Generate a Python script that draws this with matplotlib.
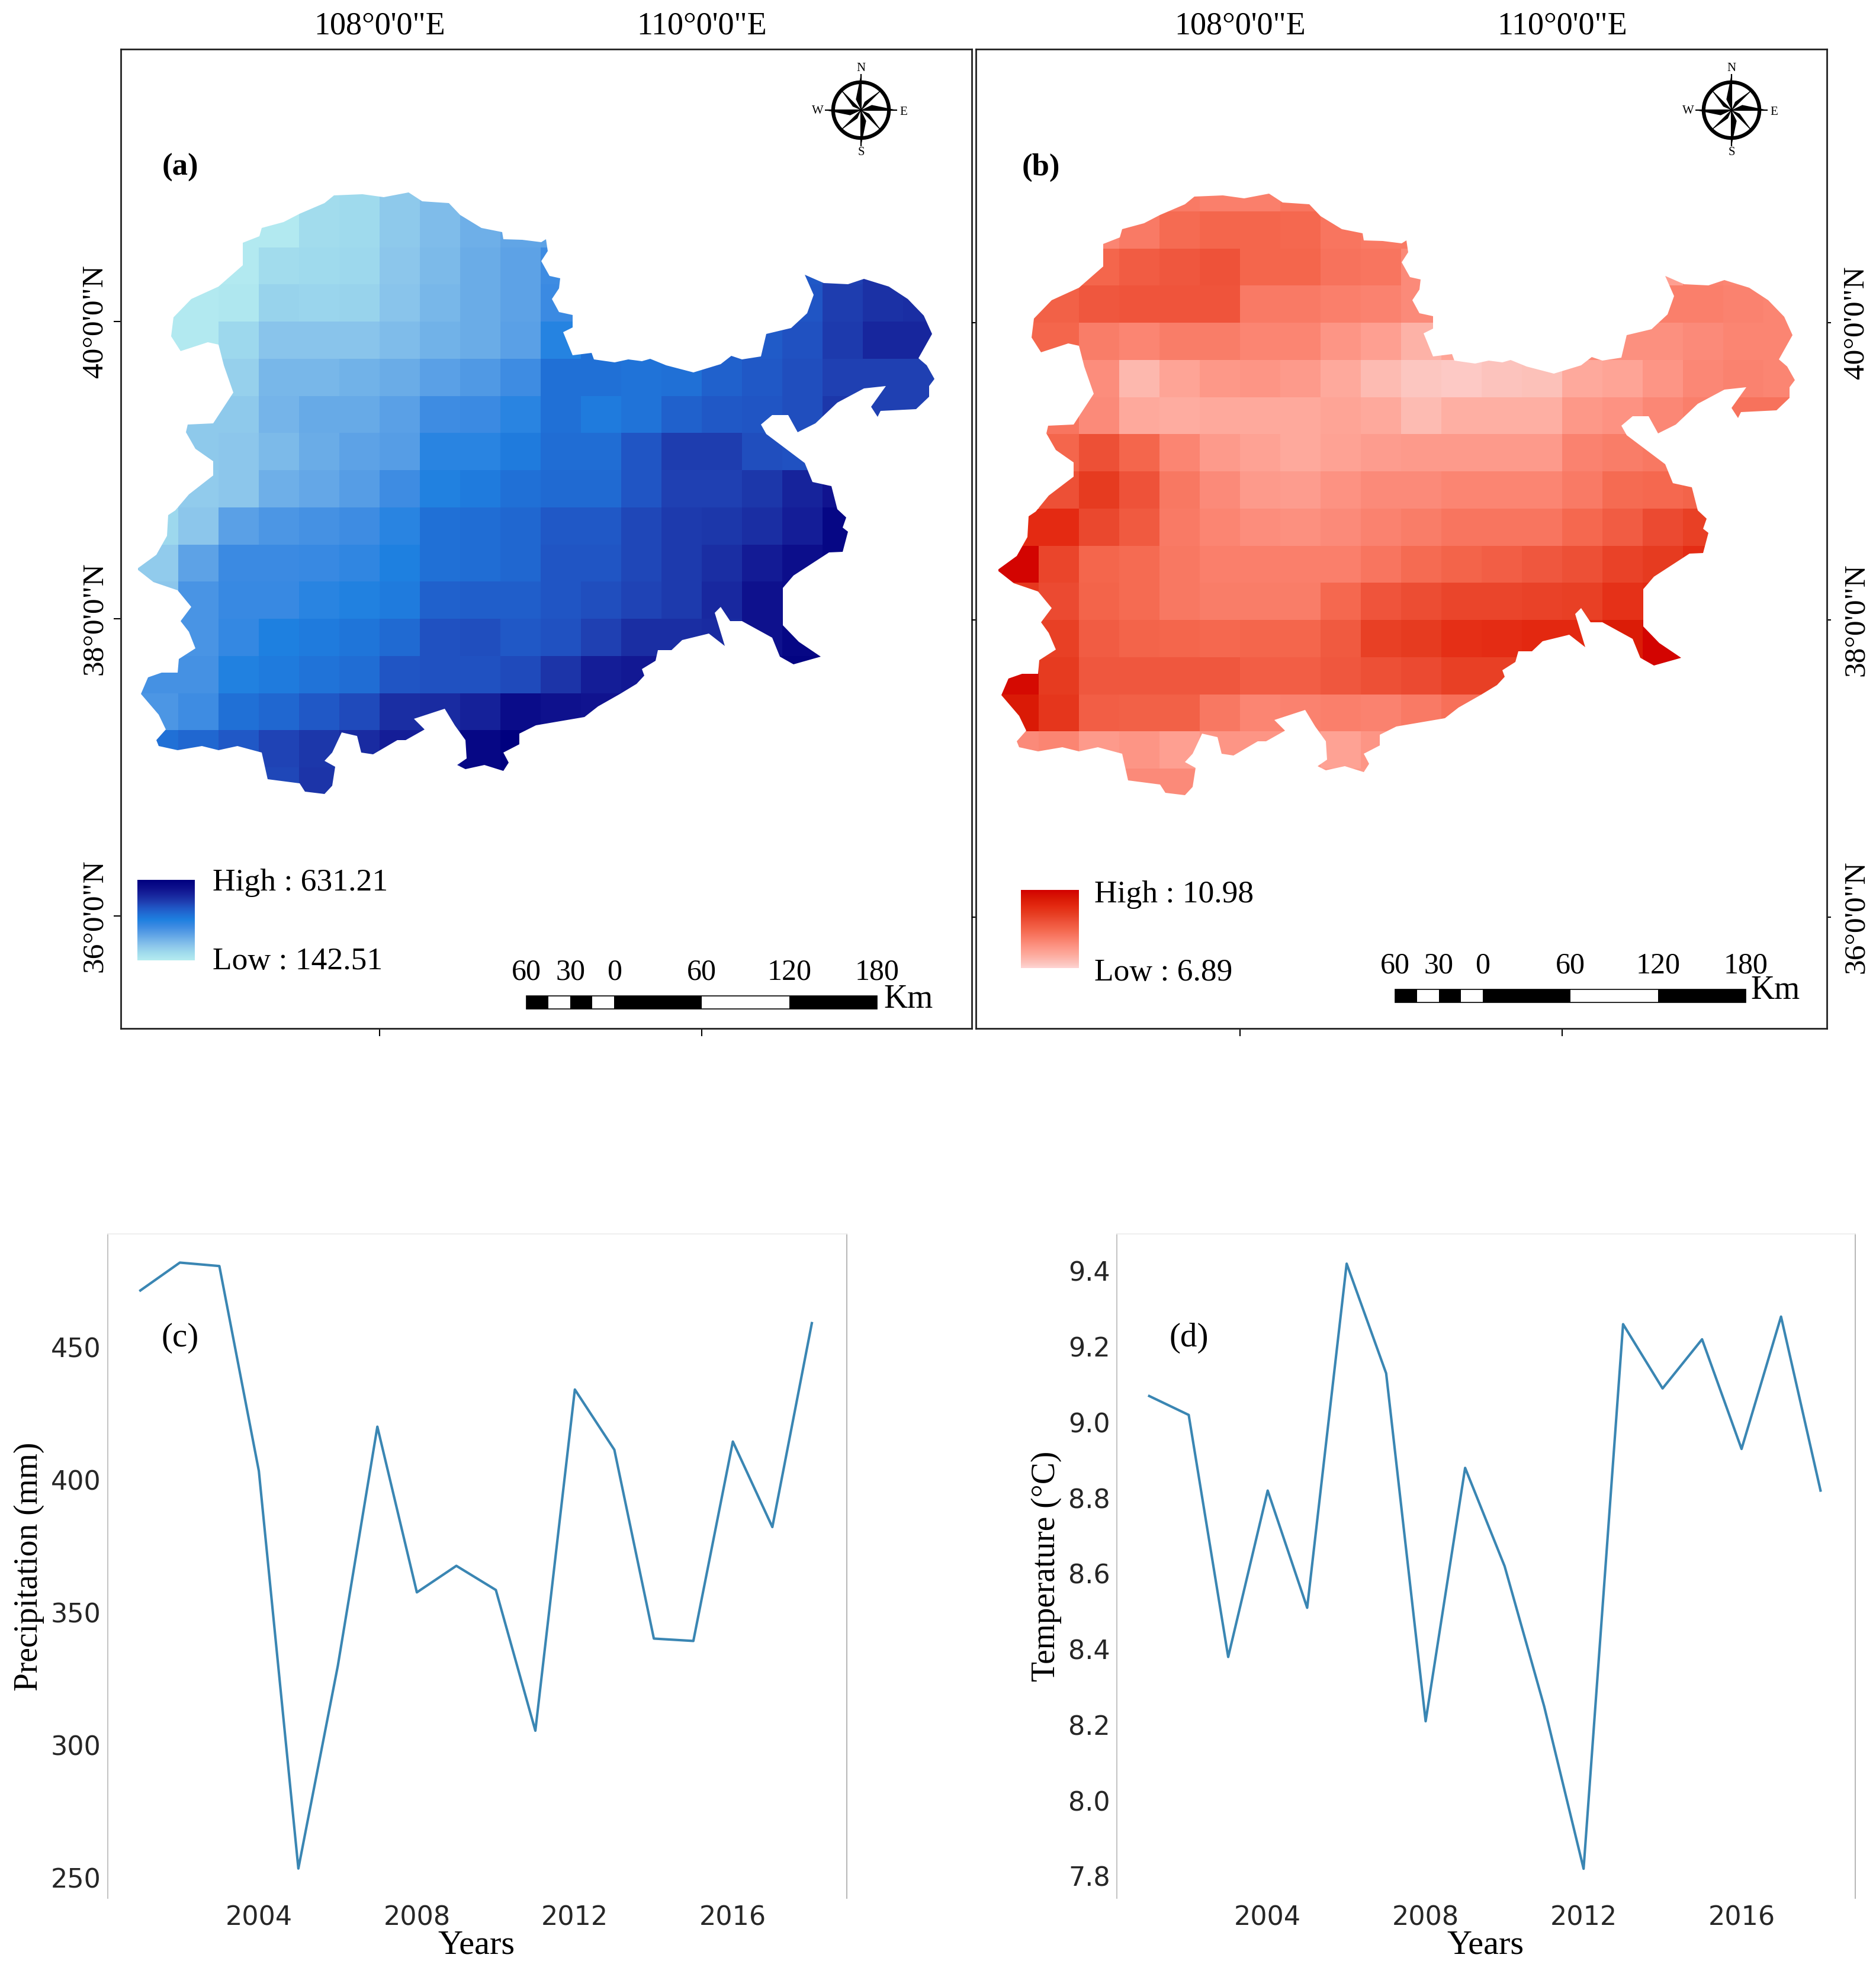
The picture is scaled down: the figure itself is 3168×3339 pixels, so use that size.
import numpy as np
import matplotlib
matplotlib.use("Agg")
import matplotlib.pyplot as plt
from matplotlib.colors import LinearSegmentedColormap, Normalize
from matplotlib.patches import Polygon, Rectangle, Circle

W, H = 3168, 3339
SERIF = "Liberation Serif"
n = np.nan

# 0.25 degree grid of the maps
lon_edges = np.arange(106.5, 111.51, 0.25)
lat_edges = np.arange(41.0, 36.74, -0.25)

# mean annual precipitation (mm), north to south, west to east
precip_grid = [
    [n, n, n, n, 185, 190, 225, 250, 275, n, n, n, n, n, n, n, n, n, n, n],
    [n, n, 150, 150, 185, 190, 225, 250, 275, 295, 300, n, n, n, n, n, n, n, n, n],
    [n, n, 150, 185, 190, 195, 230, 255, 280, 300, 345, n, n, n, n, n, 460, 495, 520, n],
    [150, 150, 155, 205, 200, 205, 235, 260, 280, 300, 350, n, n, n, n, n, 465, 500, 520, 525],
    [150, 150, 195, 235, 235, 235, 250, 270, 280, 305, 380, 420, n, n, 450, 455, 470, 505, 540, 540],
    [n, n, 210, 260, 260, 270, 280, 305, 320, 345, 420, 420, 415, 420, 445, 460, 475, 495, 495, 495],
    [n, 225, 225, 265, 285, 285, 305, 345, 350, 375, 420, 400, 415, 445, 460, 465, 475, 510, 495, 495],
    [n, 225, 230, 255, 280, 300, 310, 375, 375, 400, 425, 425, 465, 500, 500, 475, 470, n, n, n],
    [n, 220, 230, 275, 290, 310, 345, 385, 400, 420, 430, 430, 465, 495, 495, 510, 545, 575, n, n],
    [195, 230, 305, 325, 335, 345, 375, 420, 425, 435, 460, 460, 485, 505, 510, 525, 555, 610, n, n],
    [220, 300, 350, 350, 355, 365, 390, 420, 425, 435, 465, 465, 485, 505, 525, 560, 590, 610, n, n],
    [230, 330, 355, 355, 375, 385, 400, 445, 450, 450, 465, 475, 490, 505, 535, 580, 595, n, n, n],
    [n, 330, 360, 390, 400, 410, 430, 470, 475, 460, 470, 495, 525, 525, 530, 580, 610, n, n, n],
    [335, 335, 385, 400, 415, 425, 465, 470, 470, 480, 515, 555, 565, n, n, 610, 620, n, n, n],
    [325, 345, 420, 435, 460, 480, 525, 530, 550, 595, 580, 575, n, n, n, n, n, n, n, n],
    [420, 435, 460, 490, 510, 530, 555, 555, 610, 630, n, n, n, n, n, n, n, n, n, n],
    [n, n, n, 485, 515, n, n, n, 620, 625, n, n, n, n, n, n, n, n, n, n],
]

# mean annual temperature (deg C), same grid
temp_grid = [
    [n, n, n, n, 8.5, 8.4, 8.4, 8.6, 8.6, n, n, n, n, n, n, n, n, n, n, n],
    [n, n, 8.3, 8.5, 8.8, 8.9, 8.9, 8.85, 8.6, 8.5, 8.5, n, n, n, n, n, n, n, n, n],
    [n, n, 8.9, 9.1, 9.2, 9.3, 8.9, 8.9, 8.65, 8.6, 8.2, n, n, n, n, n, 7.8, 8.35, 8.3, n],
    [9.0, 9.0, 9.2, 9.25, 9.25, 9.25, 8.5, 8.5, 8.4, 8.35, 8.2, n, n, n, n, n, 8.4, 8.4, 8.35, 8.3],
    [8.9, 8.9, 8.45, 8.3, 8.45, 8.45, 8.3, 8.3, 8.0, 7.8, 7.45, 7.7, n, n, 8.2, 8.1, 8.1, 8.2, 8.3, 8.3],
    [n, n, 8.15, 7.35, 7.7, 7.95, 8.0, 7.9, 7.6, 7.3, 7.1, 7.05, 7.15, 7.2, 7.6, 7.7, 8.0, 8.25, 8.35, 8.3],
    [n, 8.6, 8.2, 7.6, 7.55, 7.6, 7.6, 7.6, 7.7, 7.6, 7.3, 7.5, 7.5, 7.5, 7.95, 8.05, 8.25, 8.4, 8.65, 8.65],
    [n, 8.9, 9.35, 8.9, 8.3, 7.9, 7.75, 7.6, 7.75, 7.85, 7.9, 7.9, 7.9, 7.9, 8.35, 8.45, 8.55, n, n, n],
    [n, 9.35, 9.75, 9.3, 8.55, 8.2, 7.9, 7.85, 8.05, 8.2, 8.2, 8.3, 8.3, 8.3, 8.5, 8.8, 8.85, 8.95, n, n],
    [10.1, 10.1, 9.5, 9.15, 8.5, 8.3, 8.15, 8.1, 8.2, 8.35, 8.45, 8.6, 8.6, 8.6, 8.85, 9.1, 9.45, 9.65, n, n],
    [10.9, 9.55, 8.9, 8.8, 8.55, 8.4, 8.4, 8.4, 8.4, 8.6, 8.8, 8.95, 9.05, 9.2, 9.35, 9.6, 9.75, 10.05, n, n],
    [9.8, 9.45, 8.95, 8.8, 8.55, 8.45, 8.45, 8.45, 8.85, 9.25, 9.4, 9.55, 9.55, 9.6, 9.65, 9.95, 10.1, n, n, n],
    [n, 9.65, 9.1, 8.95, 8.9, 8.85, 8.9, 8.9, 9.15, 9.65, 9.75, 10.0, 10.05, 10.15, 10.15, 10.45, 10.9, n, n, n],
    [10.8, 9.75, 9.2, 9.2, 9.2, 9.2, 9.05, 9.05, 9.2, 9.35, 9.45, 9.65, 9.65, n, n, 10.4, 10.9, n, n, n],
    [10.5, 9.85, 9.05, 9.0, 9.0, 8.55, 8.3, 8.35, 8.4, 8.35, 8.5, 8.7, n, n, n, n, n, n, n, n],
    [8.2, 8.3, 7.9, 8.0, 7.8, 8.0, 8.0, 8.0, 7.75, 8.0, n, n, n, n, n, n, n, n, n, n],
    [n, n, n, 8.2, 8.2, n, n, n, 7.95, 7.95, n, n, n, n, n, n, n, n, n, n],
]

# study area outline
outline_lon = [
    107.717, 107.892, 108.027, 108.179, 108.263, 108.431, 108.499, 108.633, 108.761, 108.768,
    108.886, 109.004, 109.031, 109.044, 109.004, 109.054, 109.122, 109.112, 109.071, 109.112,
    109.199, 109.199, 109.139, 109.199, 109.314, 109.331, 109.459, 109.543, 109.627, 109.678,
    109.779, 109.947, 110.116, 110.183, 110.250, 110.368, 110.402, 110.554, 110.655, 110.695,
    110.638, 110.756, 110.907, 111.008, 111.160, 111.278, 111.379, 111.430, 111.345, 111.396,
    111.446, 111.413, 111.413, 111.329, 111.110, 111.093, 111.052, 111.143, 111.008, 110.840,
    110.705, 110.594, 110.537, 110.436, 110.368, 110.402, 110.638, 110.688, 110.806, 110.840,
    110.897, 110.874, 110.907, 110.874, 110.790, 110.571, 110.503, 110.503, 110.604, 110.739,
    110.571, 110.486, 110.436, 110.250, 110.176, 110.116, 110.082, 110.143, 110.042, 109.880,
    109.813, 109.728, 109.711, 109.627, 109.644, 109.594, 109.492, 109.358, 109.273, 108.970,
    108.869, 108.869, 108.768, 108.802, 108.768, 108.650, 108.532, 108.482, 108.539, 108.532,
    108.465, 108.404, 108.212, 108.280, 108.162, 108.111, 107.960, 107.885, 107.859, 107.764,
    107.707, 107.656, 107.724, 107.707, 107.656, 107.538, 107.505, 107.303, 107.269, 107.117,
    106.999, 106.898, 106.747, 106.629, 106.612, 106.673, 106.629, 106.518, 106.561, 106.646,
    106.747, 106.753, 106.855, 106.814, 106.764, 106.831, 106.747, 106.595, 106.494, 106.612,
    106.679, 106.686, 106.730, 106.814, 106.966, 106.966, 106.858, 106.797, 106.807, 106.966,
    107.090, 107.033, 106.999, 106.932, 106.764, 106.706, 106.720, 106.831, 106.999, 107.151,
    107.151, 107.252, 107.269, 107.404, 107.505, 107.656,
]
outline_lat = [
    40.847, 40.858, 40.836, 40.869, 40.810, 40.796, 40.718, 40.628, 40.600, 40.555,
    40.550, 40.536, 40.555, 40.475, 40.405, 40.307, 40.293, 40.223, 40.153, 40.063,
    40.046, 39.962, 39.929, 39.772, 39.789, 39.744, 39.724, 39.747, 39.733, 39.749,
    39.705, 39.657, 39.713, 39.769, 39.747, 39.766, 39.915, 39.957, 40.055, 40.181,
    40.315, 40.259, 40.251, 40.287, 40.237, 40.153, 40.041, 39.915, 39.755, 39.705,
    39.615, 39.565, 39.495, 39.411, 39.397, 39.360, 39.425, 39.565, 39.551, 39.453,
    39.313, 39.257, 39.369, 39.369, 39.307, 39.243, 39.047, 38.921, 38.893, 38.739,
    38.683, 38.613, 38.585, 38.450, 38.445, 38.291, 38.207, 37.955, 37.843, 37.745,
    37.695, 37.745, 37.871, 37.983, 37.983, 38.081, 38.039, 37.815, 37.899, 37.857,
    37.787, 37.787, 37.717, 37.661, 37.619, 37.563, 37.493, 37.409, 37.339, 37.283,
    37.227, 37.157, 37.101, 37.031, 36.975, 37.017, 36.989, 37.017, 37.059, 37.185,
    37.283, 37.395, 37.325, 37.255, 37.185, 37.185, 37.087, 37.101, 37.213, 37.235,
    37.101, 37.045, 37.003, 36.877, 36.821, 36.835, 36.891, 36.919, 37.101, 37.143,
    37.115, 37.143, 37.115, 37.143, 37.185, 37.255, 37.353, 37.493, 37.605, 37.638,
    37.638, 37.731, 37.801, 37.913, 37.983, 38.081, 38.193, 38.249, 38.333, 38.431,
    38.557, 38.697, 38.730, 38.837, 38.963, 39.061, 39.145, 39.257, 39.307, 39.313,
    39.523, 39.705, 39.845, 39.859, 39.803, 39.901, 40.027, 40.153, 40.237, 40.377,
    40.531, 40.573, 40.628, 40.671, 40.727, 40.796,
]

map_lon_ticks = [108, 110]
map_lon_labels = ['108°0\'0"E', '110°0\'0"E']
map_lat_ticks = [36, 38, 40]
map_lat_labels = ['36°0\'0"N', '38°0\'0"N', '40°0\'0"N']

scale_km = [-60, -45, -30, -15, 0, 60, 120, 180]
scale_label_km = [-60, -30, 0, 60, 120, 180]
scale_labels = ["60", "30", "0", "60", "120", "180"]

precip_low, precip_high = 142.51, 631.21
temp_low, temp_high = 6.89, 10.98

precip_stops = [
    (142.51, "#b5ecf0"), (190, "#9fdaed"), (230, "#8cc6eb"), (260, "#78b7e9"),
    (300, "#5da2e6"), (350, "#3b8ae2"), (390, "#1e80e0"), (420, "#2070d6"),
    (465, "#2055c4"), (495, "#1f40b2"), (525, "#1a2ea3"), (575, "#10138f"),
    (631.21, "#00007f"),
]
temp_stops = [
    (6.89, "#ffd4d4"), (7.1, "#fcc6c0"), (7.6, "#fea99c"), (8.0, "#fd9585"),
    (8.5, "#f97a65"), (8.9, "#f4664c"), (9.3, "#ee5239"), (9.75, "#e63b20"),
    (10.1, "#e42a12"), (10.5, "#da1a06"), (10.98, "#d20000"),
]

years = list(range(2001, 2019))
precip_series = [471.3, 481.8, 480.5, 403.3, 253.6, 330, 420, 357.6, 367.6,
                 358.5, 305.5, 434, 411.3, 340.2, 339.3, 414.4, 382.2, 459]
temp_series = [9.07, 9.02, 8.38, 8.82, 8.51, 9.42, 9.13, 8.21, 8.88,
               8.62, 8.25, 7.82, 9.26, 9.09, 9.22, 8.93, 9.28, 8.82]
year_ticks = [2004, 2008, 2012, 2016]
precip_ticks = [250, 300, 350, 400, 450]
temp_ticks = [7.8, 8.0, 8.2, 8.4, 8.6, 8.8, 9.0, 9.2, 9.4]

LINE = "#3a86b3"

fig = plt.figure(figsize=(W / 100, H / 100), dpi=100)


def px_axes(left, top, right, bottom):
    return fig.add_axes([left / W, 1 - bottom / H, (right - left) / W, (bottom - top) / H])


def px_text(x, y, s, **kw):
    kw.setdefault("family", SERIF)
    kw.setdefault("color", "black")
    return fig.text(x / W, 1 - y / H, s, **kw)


def make_cmap(stops):
    low, high = stops[0][0], stops[-1][0]
    return LinearSegmentedColormap.from_list(
        "m", [((v - low) / (high - low), c) for v, c in stops], N=512
    )


def draw_map(ax, grid, cmap, low, high, xlim, ylim):
    mesh = ax.pcolormesh(lon_edges, lat_edges, np.array(grid, dtype=float), cmap=cmap,
                         norm=Normalize(low, high), shading="flat", antialiased=False,
                         linewidth=0, rasterized=True)
    clip = Polygon(np.column_stack([outline_lon, outline_lat]), closed=True,
                   transform=ax.transData, fc="none", ec="none")
    ax.add_patch(clip)
    mesh.set_clip_path(clip)
    ax.set_xlim(*xlim)
    ax.set_ylim(*ylim)
    ax.set_xticks(map_lon_ticks, map_lon_labels, family=SERIF, fontsize=39)
    ax.set_yticks(map_lat_ticks, map_lat_labels, family=SERIF, fontsize=37, rotation=90, va="center")
    ax.tick_params(axis="x", bottom=True, top=False, labelbottom=False, labeltop=True,
                   length=9, width=1.5, pad=1)
    for s in ax.spines.values():
        s.set_linewidth(2)
        s.set_color("#222222")


def draw_scale(ax, lon0, lat0, lat1, label_lat, km_lon, km_lat):
    deg = 0.00907  # degrees of longitude per km on the plot
    for i in range(len(scale_km) - 1):
        ax.add_patch(Rectangle((lon0 + scale_km[i] * deg, lat0),
                               (scale_km[i + 1] - scale_km[i]) * deg, lat1 - lat0,
                               fc="black" if i % 2 == 0 else "white", ec="none"))
    ax.add_patch(Rectangle((lon0 + scale_km[0] * deg, lat0),
                           (scale_km[-1] - scale_km[0]) * deg, lat1 - lat0,
                           fc="none", ec="black", lw=1.2))
    for km, lab in zip(scale_label_km, scale_labels):
        ax.text(lon0 + km * deg, label_lat, lab, family=SERIF, fontsize=36,
                ha="center", va="center")
    ax.text(km_lon, km_lat, "Km", family=SERIF, fontsize=40, ha="left", va="center")


def draw_legend(cmap, left, top, right, bottom, text_x, high_y, low_y, high, low):
    cax = px_axes(left, top, right, bottom)
    cax.imshow(np.linspace(1, 0, 256)[:, None], aspect="auto", cmap=cmap, vmin=0, vmax=1)
    cax.axis("off")
    px_text(text_x, high_y, "High : %.2f" % high, fontsize=38.5, va="center", ha="left")
    px_text(text_x, low_y, "Low : %.2f" % low, fontsize=38.5, va="center", ha="left")


def draw_compass(cx, cy):
    r = 62
    cax = px_axes(cx - r, cy - r, cx + r, cy + r)
    cax.set_xlim(-1, 1)
    cax.set_ylim(-1, 1)
    cax.axis("off")
    cax.add_patch(Circle((0, 0), 0.76, fc="none", ec="black", lw=4.5))
    for ang in range(0, 360, 45):
        a = np.radians(ang)
        main = ang % 90 == 0
        length = 0.98 if main else 0.76
        d = np.array([np.cos(a), np.sin(a)])
        p = np.array([-d[1], d[0]])
        width = 0.14 if main else 0.09
        tip = d * length
        side = d * length * 0.3 + p * width
        cax.add_patch(Polygon([(0, 0), tip, side], closed=True, fc="black", ec="none"))
        cax.plot([0, tip[0]], [0, tip[1]], color="black", lw=1.6 if main else 1.0, solid_capstyle="butt")
    for dx, dy, lab in [(0, -70, "N"), (0, 71, "S"), (-73, 2, "W"), (72, 3, "E")]:
        px_text(cx + dx, cy + dy, lab, fontsize=15, ha="center", va="center")


def draw_series(ax, values, yticks, ylim, xlim, fmt):
    ax.plot(years, values, color=LINE, lw=3.0)
    ax.set_xlim(*xlim)
    ax.set_ylim(*ylim)
    ax.set_xticks(year_ticks)
    ax.set_yticks(yticks, [fmt % v for v in yticks])
    ax.tick_params(length=0, labelsize=32, labelcolor="#262626", pad=8)
    ax.spines["bottom"].set_visible(False)
    ax.spines["top"].set_color("#eeeeee")
    ax.spines["left"].set_color("#bdbdbd")
    ax.spines["right"].set_color("#b0b0b0")
    for s in ax.spines.values():
        s.set_linewidth(1.3)


# map panels
ax_a = px_axes(204, 83, 1641, 1737)
ax_b = px_axes(1648, 83, 3085, 1737)
cmap_a = make_cmap(precip_stops)
cmap_b = make_cmap(temp_stops)

draw_map(ax_a, precip_grid, cmap_a, precip_low, precip_high, (106.393, 111.676), (35.243, 41.833))
draw_map(ax_b, temp_grid, cmap_b, temp_low, temp_high, (106.360, 111.643), (35.251, 41.841))

ax_a.tick_params(axis="y", left=True, length=9, width=1.5, pad=6)
ax_b.tick_params(axis="y", left=True, right=True, labelleft=False, labelright=True,
                 length=5, width=1.5, pad=14)

draw_scale(ax_a, 109.456, 35.375, 35.462, 35.622, 111.13, 35.44)
draw_scale(ax_b, 109.507, 35.426, 35.514, 35.673, 111.17, 35.505)

draw_legend(cmap_a, 232, 1486, 329, 1622, 359, 1491, 1624, precip_high, precip_low)
draw_legend(cmap_b, 1724, 1503, 1822, 1635, 1848, 1511, 1643, temp_high, temp_low)

draw_compass(1454, 186)
draw_compass(2924, 186)

px_text(304, 283, "(a)", fontsize=38, fontweight="bold", ha="center", va="center")
px_text(1758, 283, "(b)", fontsize=38, fontweight="bold", ha="center", va="center")

# time series panels
ax_c = px_axes(182, 2084, 1430, 3206)
ax_d = px_axes(1886, 2084, 3133, 3206)
draw_series(ax_c, precip_series, precip_ticks, (242.4, 492.6), (2000.175, 2018.885), "%d")
draw_series(ax_d, temp_series, temp_ticks, (7.742, 9.4986), (2000.18, 2018.88), "%.1f")

px_text(304, 2260, "(c)", fontsize=41, ha="center", va="center")
px_text(2008, 2260, "(d)", fontsize=41, ha="center", va="center")
px_text(804, 3285, "Years", fontsize=42, ha="center", va="center")
px_text(2508, 3285, "Years", fontsize=42, ha="center", va="center")
px_text(49, 2646, "Precipitation (mm)", fontsize=40, rotation=90, ha="center", va="center")
px_text(1767, 2645, "Temperature (°C)", fontsize=40, rotation=90, ha="center", va="center")

fig.savefig("out.png", dpi=100)
